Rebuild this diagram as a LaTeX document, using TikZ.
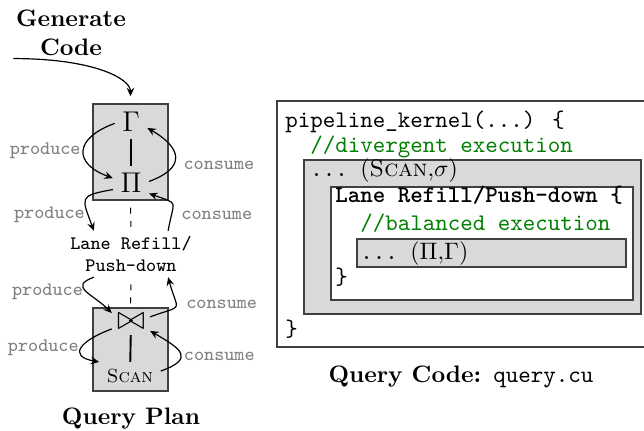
\documentclass[tikz,border=0pt]{standalone}
\usetikzlibrary{arrows.meta}
\definecolor{cmtgreen}{RGB}{0,128,0}
\begin{document}
\begin{tikzpicture}[
                            x=0.42pt, y=0.42pt,
                            >={Stealth[length=3.6pt,width=3.2pt,inset=1.3pt]},
                            planbox/.style={rectangle, draw=black!75, line width=.5pt, fill=gray!30, minimum width=31.5pt},
                            oper/.style={inner sep=3pt, font=\fontsize{13}{15}\selectfont},
                            flow/.style={->, line width=.5pt},
                            callname/.style={font=\footnotesize\ttfamily, text=gray, inner sep=1pt},
                            codebox/.style={rectangle, draw=black!75, line width=.5pt},
                            codeline/.style={anchor=base west, inner sep=0pt, font=\ttfamily},
                            comment/.style={codeline, text=cmtgreen}
                        ]
                        \useasboundingbox (0,0) rectangle (644,431);
                        \clip (0,0) rectangle (644,431);
                        % Query plan
                        \node [planbox, minimum height=40.3pt] (plan1) at (130.5,279) {};
                        \node [planbox, minimum height=34.9pt] (plan2) at (130.5,81.5) {};
                        \node [oper] (gamma) at (131,309) {$\Gamma$};
                        \node [oper] (pi) at (131,248) {$\Pi$};
                        \node [oper, font=\fontsize{15}{17}\selectfont, inner sep=2pt] (join) at (131,109) {$\bowtie$};
                        \node [inner sep=3pt, font=\footnotesize] (scan) at (130,54.5) {\textsc{Scan}};
                        \node [font=\footnotesize\ttfamily, align=center, inner sep=2pt] (lane) at (131,177) {Lane Refill/\\Push-down};
                        \node [font=\bfseries, align=center, inner sep=1pt] (gencode) at (71,398) {Generate\\Code};
                        \node [font=\bfseries] (plancap) at (131,12) {Query Plan};

                        % Connections
                        \draw [flow, shorten >=3pt] (gencode.south west) .. controls +(80,0) and +(0,25) .. (plan1.north);
                        \draw [thick] (gamma) -- (pi);
                        \draw [thick] (join) -- (scan);
                        \draw [dash pattern=on 2.5pt off 3pt, shorten <=3pt] (plan1.south) -- (lane.north);
                        \draw [dash pattern=on 2.5pt off 3pt, shorten <=3pt] (lane.south) -- (plan2.north);
                        \draw [flow] (gamma.185) to[out=200,in=160,looseness=2] node[callname,left] {produce} (pi.165);
                        \draw [flow] (pi.5) to[out=20,in=-30,looseness=1.9] node[callname,pos=.35,right=3pt] {consume} (gamma.-20);
                        \draw [flow] (pi.200) to[out=190,in=110,looseness=2] node[callname,pos=.8,left] {produce} (lane.148);
                        \draw [flow] (lane.32) to[out=80,in=-20,looseness=2] node[callname,pos=.2,right=3pt] {consume} (pi.-30);
                        \draw [flow] (lane.212) to[out=200,in=135,looseness=1.75] node[callname,left] {produce} (join.155);
                        \draw [flow] (join.15) to[out=20,in=-75,looseness=2.2] node[callname,pos=.55,right=3pt] {consume} (lane.-32);
                        \draw [flow] (join.200) to[out=200,in=170,looseness=2.4] node[callname,left] {produce} (scan.north west);
                        \draw [flow] (scan.10) to[out=20,in=-30,looseness=2.25] node[callname,pos=.4,right] {consume} (join.-25);

                        % Query code
                        \node [codebox, fill=white, minimum width=160.9pt, minimum height=103.3pt] (kernel) at (468.5,207) {};
                        \node [codebox, fill=gray!30, minimum width=141.5pt, minimum height=64.7pt] (divergent) at (472.5,194) {};
                        \node [codebox, fill=white, minimum width=126.8pt, minimum height=47.5pt] (refill) at (482,187.5) {};
                        \node [codebox, fill=gray!30, minimum width=113pt, minimum height=11.8pt] (balanced) at (491.5,178) {};
                        \node [codeline] (line1) at (285,303) {pipeline\_kernel(...) \{};
                        \node [comment] (line2) at (310,278) {//divergent execution};
                        \node [codeline] (line3) at (310,254) {...\ $(\textnormal{\textsc{Scan}}{,}\sigma)$};
                        \node [codeline, font=\ttfamily\bfseries] (line4) at (335,228) {Lane Refill/Push-down \{};
                        \node [comment] (line5) at (360,200) {//balanced execution};
                        \node [codeline] (line6) at (360,171) {...\ $(\Pi{,}\Gamma)$};
                        \node [codeline] (line7) at (335,146) {\}};
                        \node [codeline] (line8) at (285,94) {\}};
                        \node [font=\bfseries] (codecap) at (461,54) {Query Code: \textmd{\texttt{query.cu}}};
                    \end{tikzpicture}
\end{document}
